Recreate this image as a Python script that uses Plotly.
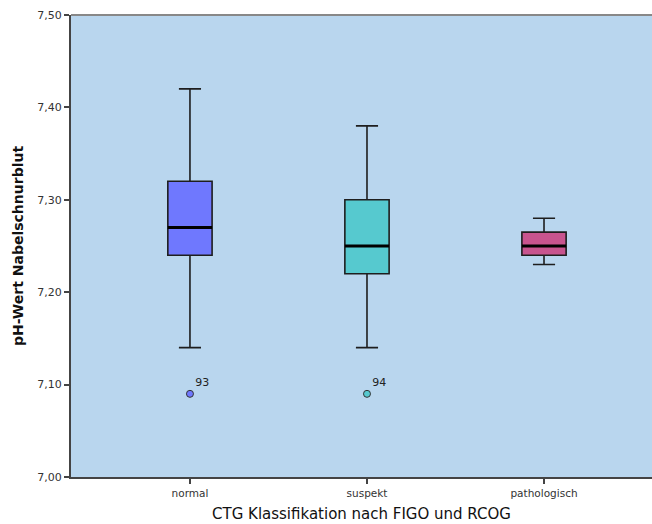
import plotly.graph_objects as go

# pH-Werte im Nabelschnurblut nach CTG-Klassifikation
categories = ["normal", "suspekt", "pathologisch"]
lower_whisker = [7.14, 7.14, 7.23]
q1 = [7.24, 7.22, 7.24]
median = [7.27, 7.25, 7.25]
q3 = [7.32, 7.30, 7.265]
upper_whisker = [7.42, 7.38, 7.28]
box_colors = ["#6F78FE", "#56C9CF", "#C8548E"]

outlier_group = [0, 1]
outlier_value = [7.09, 7.09]
outlier_label = ["93", "94"]

y_ticks = [7.00, 7.10, 7.20, 7.30, 7.40, 7.50]
y_tick_text = [f"{v:.2f}".replace(".", ",") for v in y_ticks]

BOX_W = 0.25
FONT = "DejaVu Sans"

fig = go.Figure()

for i, cat in enumerate(categories):
    fig.add_trace(go.Box(
        x=[i], q1=[q1[i]], median=[median[i]], q3=[q3[i]],
        lowerfence=[lower_whisker[i]], upperfence=[upper_whisker[i]],
        width=BOX_W, whiskerwidth=0.5,
        fillcolor=box_colors[i],
        line=dict(color="#1e1e1e", width=1.6),
        boxpoints=False, hoverinfo="skip", name=cat, showlegend=False,
    ))
    # thicker median bar
    fig.add_trace(go.Scatter(
        x=[i - BOX_W / 2, i + BOX_W / 2], y=[median[i], median[i]],
        mode="lines", line=dict(color="#000000", width=3),
        hoverinfo="skip", showlegend=False,
    ))

# outliers with case numbers
for g, v, lab in zip(outlier_group, outlier_value, outlier_label):
    fig.add_trace(go.Scatter(
        x=[g], y=[v], mode="markers+text",
        marker=dict(size=7, color=box_colors[g], line=dict(color="#333333", width=1)),
        text=[lab], textposition="top right",
        textfont=dict(family=FONT, size=11, color="#222222"),
        hoverinfo="skip", showlegend=False,
    ))

fig.update_layout(
    width=652, height=524,
    margin=dict(l=71, r=0, t=15, b=47),
    paper_bgcolor="white",
    plot_bgcolor="#B9D6EE",
    font=dict(family=FONT, color="#333333"),
    xaxis=dict(
        range=[-0.672, 2.61],
        tickmode="array", tickvals=list(range(len(categories))), ticktext=categories,
        ticks="outside", ticklen=5, tickwidth=1.5, tickcolor="#444444",
        tickfont=dict(family=FONT, size=10.5, color="#333333"),
        showgrid=False, zeroline=False,
        showline=True, linecolor="#444444", linewidth=2,
        title=dict(text="CTG Klassifikation nach FIGO und RCOG",
                   font=dict(family=FONT, size=15, color="#111111"), standoff=11),
    ),
    yaxis=dict(
        range=[7.0, 7.5],
        tickmode="array", tickvals=y_ticks, ticktext=y_tick_text,
        ticks="outside", ticklen=5, tickwidth=1.5, tickcolor="#444444",
        tickfont=dict(family=FONT, size=11, color="#333333"),
        showgrid=False, zeroline=False,
        showline=True, linecolor="#444444", linewidth=2,
        title=dict(text="<b>pH-Wert Nabelschnurblut</b>",
                   font=dict(family=FONT, size=14, color="#111111"), standoff=10),
    ),
    shapes=[dict(type="line", xref="paper", yref="paper", x0=0, x1=1, y0=1, y1=1,
                 line=dict(color="#888888", width=2))],
)

fig.write_html("out.html")
